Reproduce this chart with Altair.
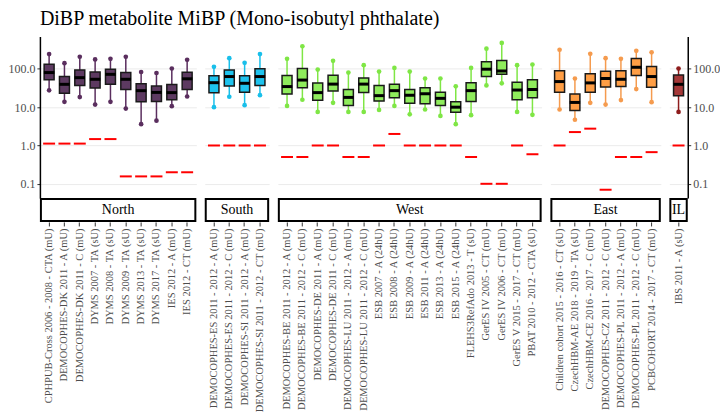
import altair as alt
import pandas as pd

TITLE = "DiBP metabolite MiBP (Mono-isobutyl phthalate)"

# ---------------- data ----------------
north_studies = ["CPHPUB-Cross 2006 - 2008 - CTA (mU)", "DEMOCOPHES-DK 2011 - A (mU)",
                 "DEMOCOPHES-DK 2011 - C (mU)", "DYMS 2007 - TA (sU)", "DYMS 2008 - TA (sU)",
                 "DYMS 2009 - TA (sU)", "DYMS 2013 - TA (sU)", "DYMS 2017 - TA (sU)",
                 "IES 2012 - A (mU)", "IES 2012 - CT (mU)"]
north_low = [27.5, 13.8, 18.3, 11.7, 13.8, 9.2, 3.6, 4.45, 10.6, 19]
north_q1 = [52, 23, 37, 31.6, 39.6, 29, 13.8, 14.1, 15.6, 29]
north_med = [80, 39.5, 59, 53.5, 72, 53.5, 27, 24.3, 24, 55]
north_q3 = [132, 63, 94, 83, 98, 80, 41, 35.6, 39, 81.5]
north_high = [243, 141, 207, 176, 183, 207, 83, 78, 102, 173]
north_loq = [1.12, 1.12, 1.12, 1.47, 1.47, 0.156, 0.156, 0.156, 0.2, 0.2]

south_studies = ["DEMOCOPHES-ES 2011 - 2012 - A (mU)", "DEMOCOPHES-ES 2011 - 2012 - C (mU)",
                 "DEMOCOPHES-SI 2011 - 2012 - A (mU)", "DEMOCOPHES-SI 2011 - 2012 - CT (mU)"]
south_low = [10, 18.7, 11.3, 20.6]
south_q1 = [23.8, 35.7, 24.4, 37]
south_med = [43.6, 63, 42, 63]
south_q3 = [66, 94, 66, 100]
south_high = [113, 190, 144, 243]
south_loq = [1.0, 1.0, 1.0, 1.0]

west_studies = ["DEMOCOPHES-BE 2011 - 2012 - A (mU)", "DEMOCOPHES-BE 2011 - 2012 - C (mU)",
                "DEMOCOPHES-DE 2011 - A (mU)", "DEMOCOPHES-DE 2011 - C (mU)",
                "DEMOCOPHES-LU 2011 - 2012 - A (mU)", "DEMOCOPHES-LU 2011 - 2012 - C (mU)",
                "ESB 2007 - A (24hU)", "ESB 2008 - A (24hU)", "ESB 2009 - A (24hU)",
                "ESB 2011 - A (24hU)", "ESB 2013 - A (24hU)", "ESB 2015 - A (24hU)",
                "FLEHS3RefAdo 2013 - T (sU)", "GerES IV 2005 - CT (mU)", "GerES IV 2006 - CT (mU)",
                "GerES V 2015 - 2017 - CT (mU)", "PBAT 2010 - 2012 - CTA (sU)"]
west_low = [10.8, 15.6, 7.5, 13, 7.5, 7.5, 8.5, 10.8, 6.5, 8.7, 5.9, 3.6, 6.2, 37, 42, 7.5, 6.3]
west_q1 = [22, 32, 15.2, 26.4, 11, 24, 14.4, 17.6, 12.7, 12.2, 11, 7.4, 14, 63, 72, 15.6, 17.6]
west_med = [34.5, 51, 24, 40, 18, 40, 20, 27, 20.6, 22.4, 17, 10, 27, 98, 88, 28, 29]
west_q3 = [67, 102, 43, 68, 29, 58, 37, 39.6, 29, 32, 24.7, 13.8, 43.6, 153, 166, 44.6, 52]
west_high = [183, 389, 96, 162, 80, 125, 85, 106, 85, 56, 56, 35, 106, 337, 476, 125, 130]
west_loq = [0.5, 0.5, 1, 1, 0.5, 0.5, 1, 2.0, 1, 1, 1, 1, 0.5, 0.1, 0.1, 1, 0.59]

east_studies = ["Children cohort 2015 - 2016 - CT (sU)", "CzechHBM-AE 2018 - 2019 - TA (sU)",
                "CzechHBM-CE 2016 - 2017 - C (mU)", "DEMOCOPHES-CZ 2011 - 2012 - C (mU)",
                "DEMOCOPHES-PL 2011 - 2012 - A (mU)", "DEMOCOPHES-PL 2011 - 2012 - C (mU)",
                "PCBCOHORT 2014 - 2017 - CT (mU)"]
east_low = [8.7, 4.7, 13, 11.7, 15.3, 29.6, 13.5]
east_q1 = [24.7, 8.2, 24.4, 33.6, 34.5, 67, 33]
east_med = [46.6, 13.3, 43, 56, 53.5, 110, 63]
east_q3 = [89, 22, 75, 87, 89, 187, 115]
east_high = [316, 56, 247, 190, 183, 296, 270]
east_loq = [1.0, 2.24, 2.75, 0.07, 0.5, 0.5, 0.67]

il_studies = ["IBS 2011 - A (sU)"]
il_low = [7.5]
il_q1 = [20]
il_med = [39.5]
il_q3 = [69]
il_high = [102]
il_loq = [1.0]

# ---------------- styling ----------------
FONT = "Liberation Serif"
K = 15.38          # pixels per study
H = 162            # panel height
STRIP = 24         # strip height
GAP = 8.3
Y_DOMAIN = [0.0425, 700]
RED = "#FF0000"
GRID = "#EBEBEB"
TXT = "#4D4D4D"


def panel(region, studies, low, q1, med, q3, high, loq, fill, line, pos):
    df = pd.DataFrame({"study": studies, "low": low, "q1": q1, "med": med,
                       "q3": q3, "high": high, "loq": loq})
    n = len(studies)
    W = K * (n + 0.2)

    x = alt.X("study:N", sort=studies, title=None,
              scale=alt.Scale(type="band", paddingInner=0.35, paddingOuter=0.275),
              axis=alt.Axis(labelAngle=270, offset=STRIP, domain=False, ticks=True,
                            tickSize=4, tickColor="#333333", labelColor=TXT,
                            labelFont=FONT, labelFontSize=10.5, labelPadding=2,
                            labelLimit=300, labelOverlap=False, grid=False))
    ysc = alt.Scale(type="log", domain=Y_DOMAIN, nice=False)
    common = dict(values=[0.1, 1, 10, 100], format=".1f", grid=True,
                  gridColor=GRID, gridWidth=1, domain=True, domainColor="black",
                  domainWidth=1.5, ticks=True, tickSize=3, tickColor="#333333",
                  labelColor=TXT, labelFont=FONT, labelFontSize=12, labelPadding=2)
    if pos == "first":
        ax = alt.Axis(orient="left", **common)
    elif pos == "last":
        ax = alt.Axis(orient="right", **common)
    else:
        ax = alt.Axis(values=[0.1, 1, 10, 100], grid=True, gridColor=GRID, gridWidth=1,
                      domain=False, ticks=False, labels=False)

    def Y(f):
        return alt.Y(f"{f}:Q", scale=ysc, axis=ax, title=None)

    base = alt.Chart(df)
    loq_l = base.mark_tick(size=12, thickness=2, color=RED, opacity=1).encode(x=x, y=Y("loq"))
    whisk = base.mark_rule(color=line, strokeWidth=1.5).encode(x=x, y=Y("low"), y2="high:Q")
    p_lo = base.mark_circle(size=22, color=line, opacity=1).encode(x=x, y=Y("low"))
    p_hi = base.mark_circle(size=22, color=line, opacity=1).encode(x=x, y=Y("high"))
    box = base.mark_bar(fill=fill, stroke="#1A1A1A", strokeWidth=1.5).encode(
        x=x, y=Y("q1"), y2="q3:Q")
    medl = base.mark_tick(size=10.5, thickness=3, color="black", opacity=1).encode(
        x=x, y=Y("med"))

    sdf = pd.DataFrame({"region": [region]})
    strip = alt.Chart(sdf).mark_rect(fill="white", stroke="black", strokeWidth=2).encode(
        x=alt.value(1), x2=alt.value(W - 1), y=alt.value(H + 1), y2=alt.value(H + STRIP - 1))
    stext = alt.Chart(sdf).mark_text(font=FONT, fontSize=14, color="black",
                                     align="center", baseline="middle").encode(
        x=alt.value(W / 2), y=alt.value(H + STRIP / 2 + 0.5), text="region:N")

    return alt.layer(loq_l, whisk, p_lo, p_hi, box, medl, strip, stext).properties(
        width=W, height=H)


panels = [
    panel("North", north_studies, north_low, north_q1, north_med, north_q3, north_high,
          north_loq, "#5D3A61", "#5A2E5E", "first"),
    panel("South", south_studies, south_low, south_q1, south_med, south_q3, south_high,
          south_loq, "#1EC3EE", "#19BFEA", "mid"),
    panel("West", west_studies, west_low, west_q1, west_med, west_q3, west_high,
          west_loq, "#8FEC5C", "#7FE645", "mid"),
    panel("East", east_studies, east_low, east_q1, east_med, east_q3, east_high,
          east_loq, "#FF9E45", "#F59B4E", "mid"),
    panel("IL", il_studies, il_low, il_q1, il_med, il_q3, il_high,
          il_loq, "#A53838", "#8E1C1C", "last"),
]

chart = alt.hconcat(*panels, spacing=GAP).resolve_scale(
    x="independent", y="independent").properties(
    title=alt.TitleParams(TITLE, font=FONT, fontSize=20, fontWeight="normal",
                          color="black", anchor="start", offset=8, dx=32),
    padding={"left": 0, "top": 0, "right": 0, "bottom": 0},
).configure_view(strokeOpacity=0).configure_title(font=FONT)

chart.save("out.html", embed_options={"renderer": "svg", "actions": False})
